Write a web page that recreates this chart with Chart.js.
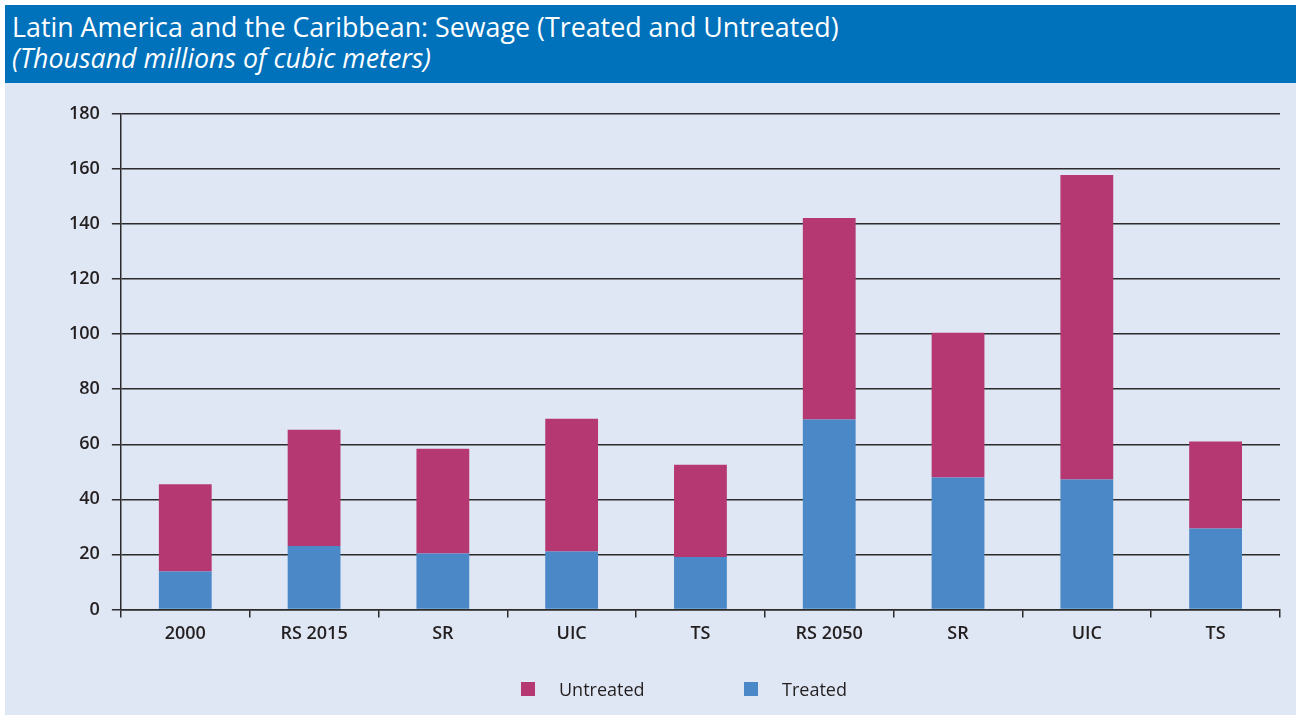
<!DOCTYPE html>
<html>
<head>
<meta charset="utf-8">
<script src="https://cdn.jsdelivr.net/npm/chart.js@4.4.1/dist/chart.umd.min.js"></script>
<style>
  html, body { margin: 0; padding: 0; background: #ffffff; }
  body { width: 1301px; height: 718px; position: relative; overflow: hidden; }
  #header {
    position: absolute; left: 5px; top: 5px; width: 1291px; height: 78px;
    background: #0071bb; color: #ffffff;
    font-family: "Open Sans", sans-serif; font-size: 26.8px; line-height: 26px;
  }
  #header .l1 { position: absolute; left: 7px; top: 9px; white-space: nowrap; }
  #header .l2 { position: absolute; left: 7px; top: 40px; font-style: italic; white-space: nowrap; }
  #panel {
    position: absolute; left: 5px; top: 83px; width: 1291px; height: 632px;
    background: #e0e7f4;
  }
  #legend {
    position: absolute; left: 0; top: 594px; width: 1291px; height: 24px;
    font-family: "Open Sans", sans-serif; font-size: 18px; font-weight: 500; color: #231f20;
  }
  #legend .item { position: absolute; top: 0; white-space: nowrap; line-height: 24px; }
  #legend .box { position: absolute; top: 5px; width: 14px; height: 14px; }
  #legend .txt { position: absolute; left: 38px; top: 0; }
</style>
</head>
<body>
<div id="header">
  <div class="l1">Latin America and the Caribbean: Sewage (Treated and Untreated)</div>
  <div class="l2">(Thousand millions of cubic meters)</div>
</div>
<div id="panel">
  <canvas id="chart" width="1291" height="632"></canvas>
  <div id="legend"></div>
</div>
<script>
const categories = ['2000', 'RS 2015', 'SR', 'UIC', 'TS', 'RS 2050', 'SR', 'UIC', 'TS'];
const treated = [13.8, 23, 20.3, 21, 19, 69, 47.9, 47.2, 29.4];
const untreated = [31.7, 42.3, 38.1, 48.3, 33.6, 73.2, 52.6, 110.6, 31.6];
const yTicks = [0, 20, 40, 60, 80, 100, 120, 140, 160, 180];

const axisColor = '#2b2b2b';
const tickFont = { family: '"Open Sans", sans-serif', size: 18, weight: '600' };

const chart = new Chart(document.getElementById('chart'), {
  type: 'bar',
  data: {
    labels: categories,
    datasets: [
      {
        label: 'Treated',
        data: treated,
        backgroundColor: '#4a88c7',
        barPercentage: 0.41,
        categoryPercentage: 1
      },
      {
        label: 'Untreated',
        data: untreated,
        backgroundColor: '#b53872',
        barPercentage: 0.41,
        categoryPercentage: 1
      }
    ]
  },
  options: {
    responsive: false,
    animation: false,
    layout: { padding: { top: 31, right: 16, left: 52, bottom: 64 } },
    scales: {
      x: {
        stacked: true,
        grid: {
          offset: true,
          drawOnChartArea: false,
          color: axisColor,
          lineWidth: 1.5,
          tickLength: 8
        },
        border: { color: axisColor, width: 1.5 },
        ticks: { color: '#231f20', font: tickFont, padding: 6 }
      },
      y: {
        stacked: true,
        min: 0,
        max: 180,
        afterBuildTicks: axis => { axis.ticks = yTicks.map(v => ({ value: v })); },
        grid: { color: axisColor, lineWidth: 1.5, tickLength: 9 },
        border: { color: axisColor, width: 1.5 },
        ticks: { color: '#231f20', font: tickFont, padding: 12 }
      }
    },
    plugins: {
      legend: { display: false },
      tooltip: { enabled: false }
    }
  }
});

// html legend, untreated first like the original
const legend = document.getElementById('legend');
const legendX = [516, 739];
chart.data.datasets.slice().reverse().forEach((ds, i) => {
  const item = document.createElement('div');
  item.className = 'item';
  item.style.left = legendX[i] + 'px';
  item.innerHTML = `<span class="box" style="background:${ds.backgroundColor}"></span><span class="txt">${ds.label}</span>`;
  legend.appendChild(item);
});
</script>
</body>
</html>
